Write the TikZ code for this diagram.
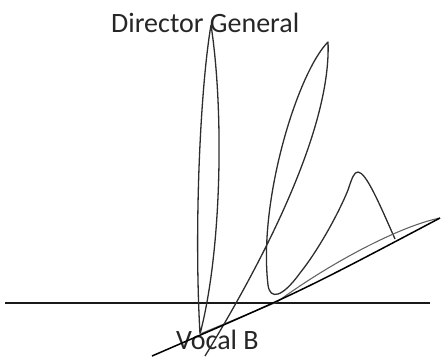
\documentclass[tikz,border=0pt]{standalone}
\usepackage{fontspec}
\setmainfont{Carlito}
\usetikzlibrary{positioning}
\definecolor{sketchgray}{RGB}{45,45,45}
\definecolor{palegray}{RGB}{100,100,100}

\begin{document}
\begin{tikzpicture}[x=1pt, y=-1pt,
    lobe/.style={sketchgray, line width=1.3pt, line join=round},
    thinedge/.style={palegray, line width=1.1pt},
    diagline/.style={black, line width=1.5pt},
    groundline/.style={black!90, line width=2.4pt},
    rolelabel/.style={inner sep=0pt, anchor=base west, text=black!85,
      font=\fontsize{28}{34}\selectfont}]
    \useasboundingbox (0,0) rectangle (441,356);
    % labels
    \node[rolelabel] (dg) at (111,32) {Director General};
    \node[rolelabel] (vb) at (176,349) {Vocal B};
    % key points
    \coordinate (o) at (200,334);
    \coordinate (t1) at (211,25);
    \coordinate (t2) at (328,42);
    \coordinate (m) at (277,302);
    \coordinate (r) at (440,218);
    % horizontal line
    \draw[groundline] (5,303) -- (430,303);
    % first lobe
    \draw[lobe] (o) .. controls (194,230) and (200,90) .. (t1)
      .. controls (224,110) and (222,250) .. (o);
    % second and third lobe
    \draw[lobe] (205,356) .. controls (283,228) and (331,115) .. (t2)
      .. controls (298,72) and (258,200) .. (268,285)
      .. controls (270,300) and (282,298) .. (300,273)
      .. controls (320,248) and (340,210) .. (348,190)
      .. controls (352,178) and (354,172) .. (358,172)
      .. controls (366,172) and (380,205) .. (395,239);
    % thin lobe
    \draw[thinedge] (o) -- (m) .. controls (330,263) and (400,226) .. (r);
    \draw[diagline] (152,356) .. controls (300,292) .. (r);
  \end{tikzpicture}
\end{document}
